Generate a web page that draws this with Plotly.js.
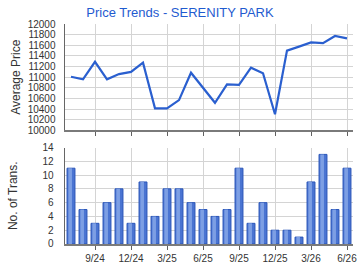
<!DOCTYPE html>
<html>
<head>
<meta charset="utf-8">
<script src="https://cdn.plot.ly/plotly-3.0.1.min.js"></script>
<style>
html,body{margin:0;padding:0;background:#fff;}
#chart{width:360px;height:270px;}
</style>
</head>
<body>
<div id="chart"></div>
<script>
var months = ["7/24","8/24","9/24","10/24","11/24","12/24","1/25","2/25","3/25","4/25","5/25","6/25",
              "7/25","8/25","9/25","10/25","11/25","12/25","1/26","2/26","3/26","4/26","5/26","6/26"];
var avgPrice = [11010,10960,11290,10960,11060,11100,11275,10415,10415,10570,11085,10800,
                10520,10865,10855,11180,11075,10305,11500,11575,11655,11640,11775,11730];
var transactions = [11,5,3,6,8,3,9,4,8,8,6,5,4,5,11,3,6,2,2,1,9,13,5,11];
var tickLabels = ["9/24","12/24","3/25","6/25","9/25","12/25","3/26","6/26"];

var idx = months.map(function(_, i){ return i; });
var tickPos = tickLabels.map(function(t){ return months.indexOf(t); });

var font = "Liberation Sans, Arial, sans-serif";

var traces = [
  {
    x: idx, y: avgPrice, type: "scatter", mode: "lines",
    line: {color: "#2a5fcf", width: 2.2},
    xaxis: "x", yaxis: "y", hoverinfo: "skip"
  },
  {
    x: idx, y: transactions, type: "bar", width: 0.66, offset: -0.33,
    marker: {color: "#4a74d2", line: {color: "#2a55b8", width: 1}},
    xaxis: "x2", yaxis: "y2", hoverinfo: "skip"
  },
  {
    x: idx, y: transactions, type: "bar", width: 0.3, offset: -0.22,
    marker: {color: "#7d9fe4", line: {width: 0}},
    xaxis: "x2", yaxis: "y2", hoverinfo: "skip"
  }
];

var xCommon = {
  range: [-0.5, 23.5], tickvals: tickPos, ticktext: tickLabels,
  showgrid: true, gridcolor: "#d4d4d4", gridwidth: 1,
  showline: true, linecolor: "#7a7a7a", linewidth: 1.5,
  ticks: "outside", ticklen: 4, tickcolor: "#606060",
  tickfont: {family: font, size: 10, color: "#333"},
  zeroline: false, fixedrange: true
};

var layout = {
  width: 360, height: 270,
  margin: {l: 65, r: 7, t: 24, b: 26},
  paper_bgcolor: "#fff", plot_bgcolor: "#fff",
  showlegend: false, barmode: "overlay",
  title: {
    text: "Price Trends - SERENITY PARK",
    font: {family: font, size: 13, color: "#1f5bd0"},
    x: 0.5, xanchor: "center", y: 0.955, yanchor: "middle"
  },
  xaxis: Object.assign({}, xCommon, {domain: [0, 1], anchor: "y", showticklabels: false}),
  yaxis: {
    domain: [0.516, 1], anchor: "x", range: [10000, 12000], dtick: 200, tickformat: "d",
    showgrid: true, gridcolor: "#d4d4d4", showline: true, linecolor: "#666", linewidth: 1.5,
    ticks: "", ticklabelstandoff: 6, tickfont: {family: font, size: 10, color: "#333"},
    zeroline: false, fixedrange: true,
    title: {text: "Average Price", font: {family: font, size: 12, color: "#333"}, standoff: 4}
  },
  xaxis2: Object.assign({}, xCommon, {domain: [0, 1], anchor: "y2"}),
  yaxis2: {
    domain: [0, 0.4386], anchor: "x2", range: [0, 14], dtick: 2,
    showgrid: true, gridcolor: "#d4d4d4", showline: true, linecolor: "#666", linewidth: 1.5,
    ticks: "", ticklabelstandoff: 8, tickfont: {family: font, size: 10, color: "#333"},
    zeroline: false, fixedrange: true,
    title: {text: "No. of Trans.", font: {family: font, size: 12, color: "#333"}, standoff: 22}
  }
};

Plotly.newPlot("chart", traces, layout, {displayModeBar: false, staticPlot: true});
</script>
</body>
</html>
